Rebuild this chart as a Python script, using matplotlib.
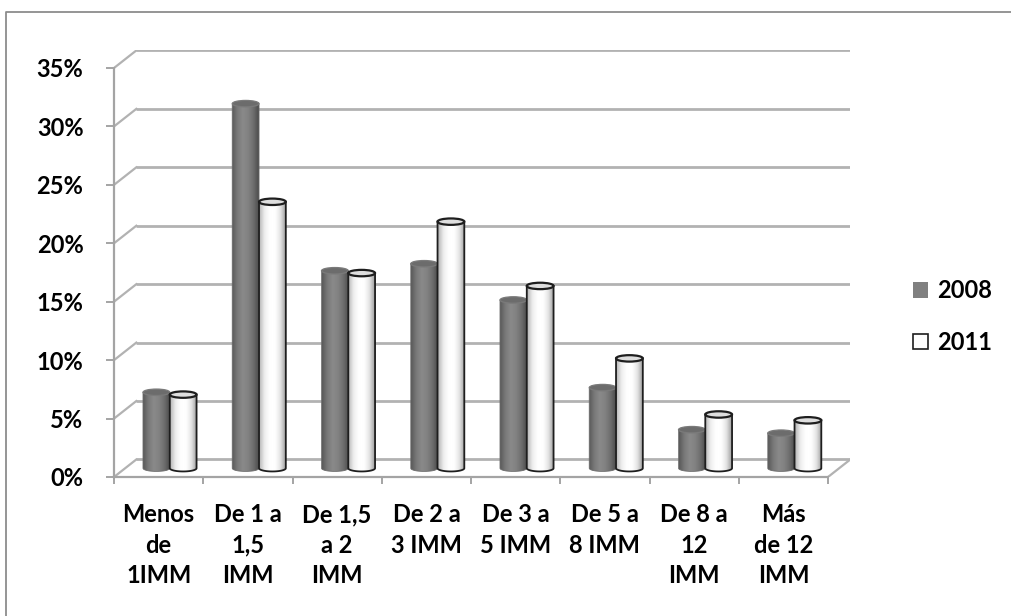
import numpy as np
import matplotlib.pyplot as plt
from matplotlib.patches import Ellipse, PathPatch, Patch
from matplotlib.path import Path
from matplotlib.colors import LinearSegmentedColormap
from matplotlib.lines import Line2D

plt.rcParams['font.family'] = ['Lato', 'DejaVu Sans']
plt.rcParams['font.weight'] = 'bold'

# datos
categorias = ['Menos\nde\n1IMM', 'De 1 a\n1,5\nIMM', 'De 1,5\na 2\nIMM', 'De 2 a\n3 IMM',
              'De 3 a\n5 IMM', 'De 5 a\n8 IMM', 'De 8 a\n12\nIMM', 'Más\nde 12\nIMM']
serie_2008 = [6.5, 31.2, 16.9, 17.5, 14.4, 6.9, 3.3, 3.0]
serie_2011 = [6.3, 22.8, 16.7, 21.1, 15.6, 9.4, 4.6, 4.1]
marcas_y = [0, 5, 10, 15, 20, 25, 30, 35]

# profundidad del "3D" falso (en unidades de datos)
DX, DY = 0.25, 1.5
W = 0.3      # ancho de cada cilindro
EH = 0.55    # alto de la elipse de la tapa

cmap_gris = LinearSegmentedColormap.from_list(
    'gris', ['#5a5a5a', '#7a7a7a', '#8a8a8a', '#828282', '#6e6e6e', '#4c4c4c'])
cmap_blanco = LinearSegmentedColormap.from_list(
    'blanco', ['#b5b5b5', '#eeeeee', '#ffffff', '#ffffff', '#e4e4e4', '#a0a0a0'])
degradado = np.linspace(0, 1, 64).reshape(1, -1)


def cilindro(ax, xc, v, cmap, borde, lw, tapa, borde_tapa, z):
    x0, x1 = xc - W / 2, xc + W / 2
    y0 = DY / 2
    y1 = y0 + v
    t = np.linspace(np.pi, 2 * np.pi, 40)
    arco = list(zip(xc + W / 2 * np.cos(t), y0 + EH / 2 * np.sin(t)))
    verts = [(x0, y1)] + arco + [(x1, y1), (x0, y1)]
    cuerpo = PathPatch(Path(verts, closed=True), facecolor='none',
                       edgecolor=borde, lw=lw, zorder=z + 0.2)
    ax.add_patch(cuerpo)
    im = ax.imshow(degradado, extent=(x0, x1, y0 - EH / 2, y1), cmap=cmap,
                   aspect='auto', interpolation='bicubic', zorder=z)
    im.set_clip_path(cuerpo)
    ax.add_patch(Ellipse((xc, y1), W, EH, facecolor=tapa, edgecolor=borde_tapa,
                         lw=lw + 0.3, zorder=z + 0.3))


fig = plt.figure(figsize=(10.11, 6.16), dpi=100)
ax = fig.add_axes([114 / 1011, 139 / 616, 8.25 * 89.25 / 1011, 36.5 * 11.686 / 616])

n = len(categorias)
gris_rejilla = '#b2b2b2'

# paredes: rejilla del fondo y diagonales de la pared izquierda
for v in marcas_y:
    ax.plot([DX, n + DX], [v + DY, v + DY], color=gris_rejilla, lw=2.0, zorder=1,
            solid_capstyle='butt')
    ax.plot([0, DX], [v, v + DY], color=gris_rejilla, lw=1.6, zorder=1)
ax.plot([n, n + DX], [0, DY], color=gris_rejilla, lw=1.6, zorder=1)

for i in range(n):
    c = i + 0.5 + DX / 2
    cilindro(ax, c - W / 2, serie_2008[i], cmap_gris, '#6a6a6a', 0.6,
             '#6c6c6c', '#7a7a7a', 3 + i)
    cilindro(ax, c + W / 2, serie_2011[i], cmap_blanco, '#1e1e1e', 1.3,
             '#dedede', '#1e1e1e', 3.5 + i)

ax.set_xlim(0, n + DX)
ax.set_ylim(0, 35 + DY)

for lado in ['top', 'right']:
    ax.spines[lado].set_visible(False)
ax.spines['left'].set_bounds(0, 35)
ax.spines['bottom'].set_bounds(0, n)
for lado in ['left', 'bottom']:
    ax.spines[lado].set_color('#a4a4a4')
    ax.spines[lado].set_linewidth(1.6)

ax.set_yticks(marcas_y)
ax.set_yticklabels([f'{v}%' for v in marcas_y])
ax.tick_params(axis='y', direction='out', length=6, width=1.4, color='#a4a4a4',
               pad=16, labelsize=17)

ax.set_xticks(range(n + 1))
ax.set_xticklabels([])
ax.set_xticks(np.arange(n) + 0.5, minor=True)
ax.set_xticklabels(categorias, minor=True, fontsize=17, linespacing=1.38)
ax.tick_params(axis='x', which='major', direction='out', length=5, width=1.4,
               color='#a4a4a4')
ax.tick_params(axis='x', which='minor', length=0, pad=19)
ax.set_facecolor('none')

manejadores = [Patch(facecolor='#808080', edgecolor='none', label='2008'),
               Patch(facecolor='white', edgecolor='#1e1e1e', lw=1.2, label='2011')]
fig.legend(handles=manejadores, loc='center left', bbox_to_anchor=(913 / 1011, 0.486),
           frameon=False, fontsize=17, handlelength=0.62, handleheight=0.62,
           handletextpad=0.4, labelspacing=1.2, borderpad=0, borderaxespad=0)

# marco exterior (solo arriba e izquierda)
fig.add_artist(Line2D([6 / 1011, 6 / 1011, 1], [0, 604.5 / 616, 604.5 / 616],
                      color='#8c8c8c', lw=1.3))

fig.savefig('out.png', dpi=100)
